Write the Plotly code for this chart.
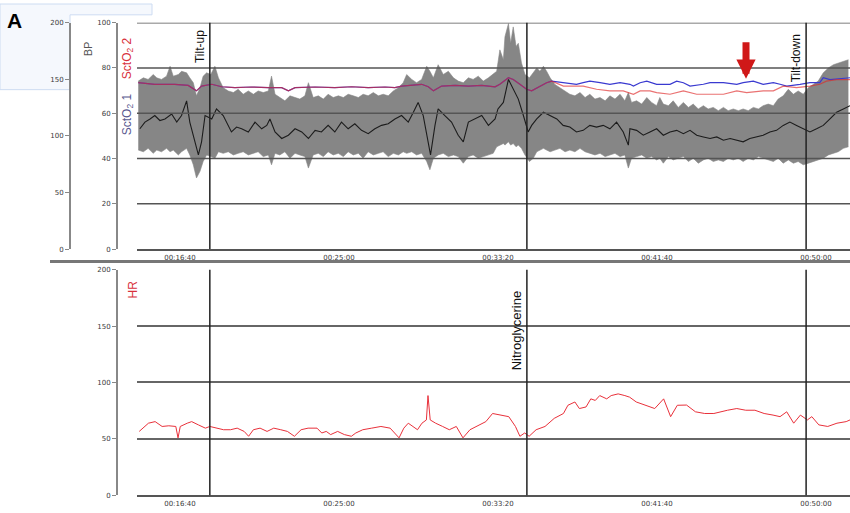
import plotly.graph_objects as go

W, H = 850, 513

# ---------------- data ----------------
tick_vals = [1000, 1500, 2000, 2500, 3000]
tick_text = ["00:16:40", "00:25:00", "00:33:20", "00:41:40", "00:50:00"]
bp_ticks = [0, 50, 100, 150, 200]
sct_ticks = [0, 20, 40, 60, 80, 100]
hr_ticks = [0, 50, 100, 150, 200]
x_range = [865, 3107]

events_t = [1094, 2091, 2969]
top_event_labels = ["Tilt-up", "", "Tilt-down"]
bottom_event_labels = ["", "Nitroglycerine", ""]

# BP beat-to-beat envelope: (time s, upper mmHg, lower mmHg)
bp_band = [
    (869, 148.4, 87.5), (885, 151.3, 86.0), (900, 149.9, 89.0), (916, 154.2, 84.6),
    (927, 151.3, 87.5), (942, 149.9, 86.0), (958, 152.8, 89.0), (969, 161.5, 86.0),
    (979, 152.8, 87.5), (995, 154.2, 83.2), (1005, 157.1, 86.0), (1021, 155.7, 89.0),
    (1031, 151.3, 83.2), (1042, 147.0, 74.5), (1052, 135.4, 62.9), (1063, 142.6, 68.7),
    (1073, 152.8, 77.4), (1084, 155.7, 83.2), (1097, 154.2, 81.7), (1110, 161.5, 80.3),
    (1121, 151.3, 86.0), (1136, 142.6, 84.6), (1152, 139.7, 86.0), (1168, 138.3, 83.2),
    (1183, 141.2, 84.6), (1199, 136.8, 86.0), (1215, 139.7, 83.2), (1231, 136.8, 84.6),
    (1246, 139.7, 86.0), (1262, 138.3, 81.7), (1278, 139.7, 83.2), (1288, 152.8, 74.5),
    (1299, 136.8, 84.6), (1314, 133.9, 83.2), (1330, 131.0, 86.0), (1346, 135.4, 80.3),
    (1362, 133.9, 84.6), (1377, 132.5, 83.2), (1393, 135.4, 81.7), (1404, 147.0, 71.6),
    (1419, 133.9, 83.2), (1435, 135.4, 84.6), (1451, 132.5, 81.7), (1466, 136.8, 86.0),
    (1482, 133.9, 83.2), (1498, 135.4, 84.6), (1514, 133.9, 81.7), (1529, 136.8, 86.0),
    (1545, 135.4, 83.2), (1561, 133.9, 84.6), (1576, 136.8, 80.3), (1592, 135.4, 86.0),
    (1608, 138.3, 83.2), (1624, 135.4, 84.6), (1639, 136.8, 86.0), (1655, 135.4, 81.7),
    (1671, 139.7, 84.6), (1687, 142.6, 83.2), (1702, 147.0, 86.0), (1713, 154.2, 84.6),
    (1729, 149.9, 86.0), (1744, 147.0, 83.2), (1760, 149.9, 84.6), (1776, 161.5, 77.4),
    (1786, 157.1, 70.1), (1797, 151.3, 80.3), (1812, 162.9, 83.2), (1828, 154.2, 84.6),
    (1844, 157.1, 81.7), (1860, 151.3, 83.2), (1875, 148.4, 81.7), (1891, 147.0, 75.9),
    (1907, 151.3, 81.7), (1922, 149.9, 83.2), (1938, 152.8, 80.3), (1954, 148.4, 81.7),
    (1970, 151.3, 83.2), (1985, 154.2, 84.6), (1996, 157.1, 90.4), (2006, 176.0, 91.9),
    (2017, 167.3, 93.3), (2022, 187.6, 91.9), (2033, 199.2, 94.8), (2040, 181.8, 91.9),
    (2048, 196.3, 93.3), (2057, 178.9, 90.4), (2064, 181.8, 91.9), (2074, 164.4, 89.0),
    (2085, 154.2, 83.2), (2099, 151.3, 77.4), (2111, 155.7, 80.3), (2122, 160.0, 86.0),
    (2132, 157.1, 87.5), (2143, 161.5, 89.0), (2153, 157.1, 87.5), (2164, 151.3, 86.0),
    (2179, 145.5, 87.5), (2195, 142.6, 89.0), (2211, 139.7, 86.0), (2226, 136.8, 87.5),
    (2242, 135.4, 86.0), (2258, 138.3, 89.0), (2274, 133.9, 86.0), (2289, 136.8, 84.6),
    (2305, 132.5, 83.2), (2321, 133.9, 84.6), (2337, 131.0, 81.7), (2352, 135.4, 83.2),
    (2368, 132.5, 84.6), (2384, 136.8, 81.7), (2399, 131.0, 83.2), (2410, 138.3, 71.6),
    (2420, 129.6, 80.3), (2436, 131.0, 81.7), (2452, 128.1, 83.2), (2468, 133.9, 80.3),
    (2483, 129.6, 81.7), (2499, 126.7, 78.8), (2509, 133.9, 80.3), (2520, 128.1, 75.9),
    (2536, 126.7, 81.7), (2551, 131.0, 78.8), (2567, 125.2, 80.3), (2583, 129.6, 81.7),
    (2599, 125.2, 77.4), (2614, 128.1, 80.3), (2630, 123.8, 75.9), (2646, 126.7, 78.8),
    (2661, 123.8, 80.3), (2677, 125.2, 77.4), (2693, 122.3, 78.8), (2709, 125.2, 77.4),
    (2724, 122.3, 80.3), (2740, 123.8, 78.8), (2756, 122.3, 80.3), (2771, 123.8, 77.4),
    (2787, 122.3, 80.3), (2803, 125.2, 78.8), (2819, 123.8, 81.7), (2834, 126.7, 80.3),
    (2850, 128.1, 78.8), (2866, 126.7, 77.4), (2881, 132.5, 80.3), (2897, 135.4, 75.9),
    (2913, 141.2, 78.8), (2929, 136.8, 75.9), (2944, 139.7, 77.4), (2960, 136.8, 74.5),
    (2976, 142.6, 75.9), (2992, 145.5, 77.4), (3007, 148.4, 78.8), (3023, 155.7, 80.3),
    (3039, 160.0, 83.2), (3055, 162.9, 84.6), (3070, 164.4, 86.0), (3086, 165.8, 89.0),
    (3102, 167.3, 90.4),
]

# mean BP (black trace): (time s, mmHg)
bp_mean = [
    (874, 106.3), (890, 112.2), (906, 115.0), (921, 118.0), (937, 113.6), (953, 115.0),
    (974, 119.4), (990, 112.2), (1005, 118.0), (1021, 131.0), (1031, 112.2), (1047, 94.8),
    (1058, 83.2), (1068, 94.8), (1079, 118.0), (1100, 115.0), (1115, 123.8), (1136, 118.0),
    (1152, 109.3), (1162, 103.5), (1178, 107.8), (1194, 106.3), (1215, 103.5), (1236, 112.2),
    (1257, 106.3), (1273, 109.3), (1283, 115.0), (1299, 103.5), (1320, 97.7), (1341, 100.6),
    (1362, 106.3), (1383, 103.5), (1404, 97.7), (1425, 104.9), (1445, 103.5), (1466, 109.3),
    (1487, 103.5), (1508, 112.2), (1529, 106.3), (1550, 110.7), (1571, 104.9), (1592, 102.0),
    (1613, 106.3), (1634, 109.3), (1655, 110.7), (1676, 115.0), (1697, 118.0), (1718, 112.2),
    (1734, 120.9), (1749, 129.6), (1765, 118.0), (1781, 94.8), (1788, 83.2), (1802, 109.3),
    (1812, 123.8), (1833, 118.0), (1854, 112.2), (1875, 100.6), (1891, 94.8), (1907, 112.2),
    (1928, 115.0), (1949, 118.0), (1970, 109.3), (1991, 115.0), (2000, 123.8), (2017, 129.6),
    (2033, 149.9), (2048, 141.2), (2064, 132.5), (2080, 118.0), (2095, 103.5), (2106, 109.3),
    (2122, 115.0), (2143, 120.9), (2164, 118.0), (2185, 115.0), (2205, 109.3), (2226, 107.8),
    (2247, 103.5), (2268, 104.9), (2289, 109.3), (2310, 107.8), (2331, 109.3), (2352, 106.3),
    (2373, 112.2), (2394, 103.5), (2410, 91.9), (2415, 106.3), (2436, 104.9), (2457, 100.6),
    (2478, 103.5), (2499, 106.3), (2520, 100.6), (2541, 103.5), (2562, 104.9), (2583, 102.0),
    (2604, 104.9), (2625, 100.6), (2646, 99.1), (2667, 97.7), (2688, 99.1), (2709, 96.2),
    (2730, 97.7), (2751, 96.2), (2771, 94.8), (2792, 97.7), (2813, 99.1), (2834, 100.6),
    (2855, 103.5), (2876, 104.9), (2897, 109.3), (2918, 112.2), (2939, 109.3), (2960, 106.3),
    (2981, 103.5), (3002, 106.3), (3023, 109.3), (3044, 115.0), (3065, 120.9), (3086, 123.8),
    (3107, 126.7),
]

# SctO2 (%): both channels coincide until ~2170 s
sct_common = [
    (869, 73.5), (921, 72.8), (984, 72.8), (1026, 72.3), (1052, 69.9), (1068, 72.0),
    (1100, 72.8), (1131, 71.7), (1173, 71.3), (1225, 71.6), (1278, 71.3), (1320, 71.3),
    (1341, 69.9), (1362, 71.3), (1425, 71.6), (1487, 71.3), (1540, 71.7), (1592, 71.3),
    (1645, 71.6), (1676, 71.3), (1697, 72.0), (1729, 72.3), (1760, 72.8), (1781, 71.7),
    (1797, 69.9), (1823, 72.0), (1865, 72.3), (1907, 72.0), (1949, 72.3), (1991, 71.7),
    (2006, 72.8), (2033, 75.7), (2048, 74.9), (2069, 72.8), (2090, 70.6), (2106, 69.9),
    (2132, 72.0), (2153, 73.5), (2169, 74.2),
]
sct1_after = [
    (2206, 73.5), (2247, 72.8), (2268, 73.5), (2289, 74.2), (2321, 73.5), (2352, 72.8),
    (2384, 73.5), (2415, 72.8), (2426, 72.0), (2447, 73.5), (2468, 74.2), (2499, 72.8),
    (2541, 72.8), (2562, 74.2), (2583, 73.5), (2604, 72.0), (2646, 72.8), (2667, 73.5),
    (2709, 73.5), (2751, 72.8), (2771, 73.5), (2803, 74.2), (2834, 72.8), (2866, 73.5),
    (2887, 72.8), (2908, 72.0), (2950, 72.8), (2981, 73.5), (3012, 73.5), (3023, 75.7),
    (3044, 74.9), (3107, 75.7),
]
sct2_after = [
    (2206, 72.0), (2268, 72.0), (2289, 71.3), (2310, 70.6), (2352, 69.9), (2394, 69.9),
    (2426, 68.4), (2447, 69.9), (2478, 69.9), (2499, 69.1), (2541, 68.4), (2583, 69.9),
    (2625, 68.4), (2709, 68.4), (2751, 69.9), (2782, 69.1), (2834, 69.9), (2866, 69.9),
    (2897, 72.0), (2939, 71.3), (2981, 72.0), (3012, 72.8), (3033, 74.2), (3065, 74.9),
    (3107, 74.9),
]
sct1 = sct_common + sct1_after
sct2 = sct_common + sct2_after

# Heart rate (bpm)
hr = [
    (872, 56.6), (901, 63.9), (922, 65.3), (944, 61.0), (965, 61.6), (987, 61.0), (994, 50.9),
    (1001, 61.0), (1023, 63.9), (1037, 65.3), (1058, 62.4), (1080, 59.5), (1094, 61.0),
    (1116, 59.5), (1137, 58.1), (1159, 58.1), (1180, 59.5), (1202, 56.6), (1216, 52.3),
    (1231, 58.1), (1252, 59.5), (1274, 56.6), (1295, 59.5), (1317, 58.1), (1338, 56.6),
    (1360, 52.3), (1381, 58.1), (1403, 59.5), (1431, 59.5), (1446, 55.2), (1460, 56.6),
    (1474, 53.8), (1496, 56.6), (1517, 53.8), (1539, 52.3), (1553, 55.2), (1575, 58.1),
    (1603, 59.5), (1632, 61.0), (1661, 59.5), (1689, 50.9), (1704, 59.5), (1718, 63.9),
    (1747, 58.1), (1761, 63.9), (1775, 66.8), (1780, 88.4), (1787, 66.8), (1804, 63.9),
    (1826, 61.0), (1847, 58.1), (1869, 61.0), (1890, 50.9), (1912, 58.1), (1933, 61.0),
    (1962, 65.3), (1983, 72.5), (2005, 71.1), (2034, 69.7), (2055, 61.0), (2069, 52.3),
    (2084, 55.2), (2098, 52.3), (2120, 58.1), (2148, 61.0), (2177, 68.2), (2206, 72.5),
    (2220, 79.8), (2242, 82.7), (2256, 76.9), (2277, 78.3), (2292, 85.5), (2306, 84.1),
    (2320, 88.4), (2342, 85.5), (2356, 88.4), (2378, 89.9), (2399, 88.4), (2414, 87.0),
    (2435, 82.7), (2464, 79.8), (2493, 76.9), (2521, 85.5), (2543, 69.7), (2564, 79.8),
    (2593, 80.0), (2621, 74.0), (2650, 72.5), (2679, 72.5), (2700, 74.0), (2722, 75.4),
    (2751, 76.9), (2779, 75.4), (2808, 75.4), (2837, 72.5), (2865, 71.1), (2887, 69.7),
    (2908, 74.0), (2930, 63.9), (2951, 71.1), (2973, 66.8), (2987, 69.7), (3009, 62.4),
    (3037, 61.0), (3066, 63.9), (3095, 65.3), (3107, 66.8),
]

arrow_t = 2780
arrow_sct = 75.2

# ---------------- layout helpers ----------------
def px(x):
    return x / W

def py(y):
    return 1 - y / H

x_dom = [px(137), 1.0]
top_dom = [py(249), py(19)]
bot_dom = [py(499), py(270)]

def col(pairs, i):
    return [p[i] for p in pairs]

GRAY = "#868686"
fig = go.Figure()

# BP band
fig.add_trace(go.Scatter(x=col(bp_band, 0), y=col(bp_band, 2), mode="lines",
                         line=dict(color=GRAY, width=0.6), xaxis="x", yaxis="y",
                         hoverinfo="skip"))
fig.add_trace(go.Scatter(x=col(bp_band, 0), y=col(bp_band, 1), mode="lines",
                         line=dict(color=GRAY, width=0.6), fill="tonexty", fillcolor=GRAY,
                         xaxis="x", yaxis="y", hoverinfo="skip"))
fig.add_trace(go.Scatter(x=col(bp_mean, 0), y=col(bp_mean, 1), mode="lines",
                         line=dict(color="#1c1c1c", width=1.1), xaxis="x", yaxis="y"))
# SctO2
fig.add_trace(go.Scatter(x=col(sct1, 0), y=col(sct1, 1), mode="lines",
                         line=dict(color="#3a3ad0", width=1.2), xaxis="x", yaxis="y3"))
fig.add_trace(go.Scatter(x=col(sct2, 0), y=col(sct2, 1), mode="lines",
                         line=dict(color="#e02828", width=1.2), opacity=0.65,
                         xaxis="x", yaxis="y3"))
# HR
fig.add_trace(go.Scatter(x=col(hr, 0), y=col(hr, 1), mode="lines",
                         line=dict(color="#e8303a", width=1), xaxis="x2", yaxis="y2"))

tickfont = dict(family="DejaVu Sans", size=7, color="#3a3a3a")
xcommon = dict(domain=x_dom, range=x_range, showline=True, linecolor="#555", linewidth=2,
               tickvals=tick_vals, ticktext=tick_text, ticks="", showgrid=False,
               zeroline=False, tickfont=tickfont)
ycommon = dict(anchor="free", showline=True, linecolor="#888", linewidth=2,
               ticks="outside", ticklen=4, tickcolor="#888", tickwidth=1,
               zeroline=False, tickfont=tickfont)

fig.update_layout(
    width=W, height=H, margin=dict(l=0, r=0, t=0, b=0),
    paper_bgcolor="white", plot_bgcolor="rgba(0,0,0,0)", showlegend=False,
    xaxis=dict(anchor="y", **xcommon),
    xaxis2=dict(anchor="y2", **xcommon),
    yaxis=dict(domain=top_dom, range=[0, 200], position=px(70), tickvals=bp_ticks,
               showgrid=False, **ycommon),
    yaxis3=dict(overlaying="y", range=[0, 100], position=px(117), tickvals=sct_ticks,
                showgrid=False, **ycommon),
    yaxis2=dict(domain=bot_dom, range=[0, 200], position=px(117), tickvals=hr_ticks,
                showgrid=True, gridcolor="#666", gridwidth=1.5, **ycommon),
)

shapes = []
# light-blue frame artefact in the corner
shapes.append(dict(type="path", xref="paper", yref="paper",
                   path=f"M 0 {py(0)} L {px(152)} {py(0)} L {px(152)} {py(11)} L {px(70)} {py(11)} "
                        f"L {px(70)} {py(87)} L 0 {py(87)} Z",
                   fillcolor="#f5f8fd", line=dict(color="#cddcf2", width=1), layer="below"))
# top horizontal grid lines (drawn over the BP band)
for v in sct_ticks[1:]:
    shapes.append(dict(type="line", xref="x domain", x0=0, x1=1, yref="y3", y0=v, y1=v,
                       line=dict(color="#555", width=1.5), layer="above"))
# event lines
for t in events_t:
    shapes.append(dict(type="line", xref="x", x0=t, x1=t, yref="y domain", y0=0, y1=1,
                       line=dict(color="#222", width=1.5), layer="above"))
    shapes.append(dict(type="line", xref="x2", x0=t, x1=t, yref="y2 domain", y0=0, y1=1,
                       line=dict(color="#222", width=1.5), layer="above"))
# separator between panels
shapes.append(dict(type="line", xref="paper", yref="paper", x0=px(50), x1=1,
                   y0=py(261.5), y1=py(261.5), line=dict(color="#777", width=3)))
fig.update_layout(shapes=shapes)

def lab(text, x, y, size, color, angle=0, bold=False):
    return dict(text=f"<b>{text}</b>" if bold else text, xref="paper", yref="paper",
                x=px(x), y=py(y), xanchor="center", yanchor="middle", textangle=angle,
                showarrow=False, font=dict(family="Liberation Sans", size=size, color=color))

ann = [
    lab("A", 14, 17, 21, "#000", bold=True),
    lab("BP", 88, 46, 11, "#555", angle=-90),
    lab("SctO<sub>2</sub> 2", 128, 55, 12, "#d8303c", angle=-90),
    lab("SctO<sub>2</sub> 1", 128, 112, 12, "#5a5a90", angle=-90),
    lab("HR", 133, 290, 12, "#d8303c", angle=-90),
]
top_label_y = [0.896, 0, 0.843]
for t, text, yy in zip(events_t, top_event_labels, top_label_y):
    if text:
        ann.append(dict(text=text, xref="x", yref="y domain", x=t, y=yy, xanchor="right",
                        yanchor="middle", xshift=-1, textangle=-90, showarrow=False,
                        font=dict(family="Liberation Sans", size=12, color="#111")))
for t, text in zip(events_t, bottom_event_labels):
    if text:
        ann.append(dict(text=text, xref="x2", yref="y2 domain", x=t, y=0.729, xanchor="right",
                        yanchor="middle", xshift=-1, textangle=-90, showarrow=False,
                        font=dict(family="Liberation Sans", size=13, color="#111")))
ann.append(dict(text="", xref="x", yref="y3", x=arrow_t, y=arrow_sct, ax=0, ay=-38,
                showarrow=True, arrowhead=2, arrowsize=0.55, arrowwidth=7,
                arrowcolor="#d01818"))
fig.update_layout(annotations=ann)

fig.write_html("out.html", config={"displayModeBar": False},
               post_script="document.body.style.margin='0px';document.body.style.padding='0px';")
